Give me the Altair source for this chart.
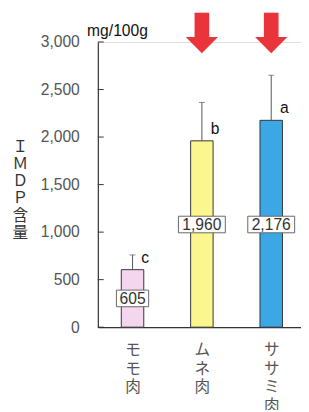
import altair as alt
import pandas as pd

# ---- data ----
categories = ["モモ肉", "ムネ肉", "ササミ肉"]
values = [605, 1960, 2176]
errors_top = [760, 2364, 2650]
letters = ["c", "b", "a"]
highlight = [False, True, True]
bar_colors = ["#f4d6ee", "#fcf68e", "#3ba7e4"]
y_ticks = [0, 500, 1000, 1500, 2000, 2500, 3000]

df = pd.DataFrame({
    "cat": categories,
    "value": values,
    "err": errors_top,
    "letter": letters,
    "hl": highlight,
    "color": bar_colors,
})
df["label_y"] = [v / 2 if v < 1000 else 1080 for v in values]
df["nchar"] = [len(f"{v:,}") for v in values]

ticks_df = pd.DataFrame({"t": y_ticks})

JP = "Noto Sans CJK JP"
SANS = "Liberation Sans"

xscale = alt.Scale(type="point", domain=categories, padding=0.465, align=0.538)
yscale = alt.Scale(domain=[0, 3000], nice=False, zero=True)

x_enc = alt.X(
    "cat:N", scale=xscale, sort=categories, title=None,
    axis=alt.Axis(
        labelAngle=0, labelExpr="split(datum.label, '')", labelFont=JP,
        labelFontSize=16, labelColor="#555555", labelLineHeight=19,
        labelPadding=15, ticks=False, domainColor="#333333", domainWidth=1.2,
        labelBaseline="top",
    ),
)
y_enc = alt.Y(
    "value:Q", scale=yscale,
    title=["Ｉ", "Ｍ", "Ｄ", "Ｐ", "含", "量"],
    axis=alt.Axis(
        values=y_ticks, format=",", labelExpr="format(datum.value, ',')",
        ticks=False, tickSize=0, labelPadding=19,
        labelFont=SANS, labelFontSize=16, labelColor="#555555",
        domainColor="#333333", domainWidth=1.2, grid=False,
        titleAngle=0, titleX=-80, titleY=107, titleAlign="center",
        titleBaseline="middle", titleFont=JP, titleFontSize=16,
        titleFontWeight="normal", titleColor="#333333", titleLineHeight=17.6,
    ),
)

xs = alt.X("cat:N", scale=xscale, sort=categories)


def ys(field):
    return alt.Y(field, scale=yscale)


base = alt.Chart(df)

bars = base.mark_bar(width=23, stroke="#333333", strokeWidth=1).encode(
    x=x_enc,
    y=y_enc,
    color=alt.Color("color:N", scale=None),
)

err_rule = base.mark_rule(color="#555555", strokeWidth=1).encode(
    x=xs, y=ys("value:Q"), y2="err:Q",
)
err_cap = base.mark_tick(color="#555555", size=6, thickness=1).encode(
    x=xs, y=ys("err:Q"),
)

letters_txt = base.mark_text(
    align="left", baseline="middle", dx=9, dy=-12, font=SANS, fontSize=16,
    color="#111111",
).encode(x=xs, y=ys("value:Q"), text="letter:N")

path3 = "M-0.6875,-0.354L0.6875,-0.354L0.6875,0.354L-0.6875,0.354Z"
path5 = "M-1,-0.354L1,-0.354L1,0.354L-1,0.354Z"
boxes = base.mark_point(
    filled=False, fill="white", fillOpacity=1, stroke="#666666",
    strokeWidth=1, opacity=1, size=2304,
).encode(
    x=xs, y=ys("label_y:Q"),
    shape=alt.Shape("nchar:O", scale=alt.Scale(domain=[3, 5], range=[path3, path5]), legend=None),
)
box_txt = base.mark_text(
    align="center", baseline="middle", dy=1, font=SANS, fontSize=16, color="#333333",
).encode(
    x=xs, y=ys("label_y:Q"),
    text=alt.Text("value:Q", format=","),
)

# arrow: shaft as a bar, head as a triangle symbol
arrow_shaft = base.transform_filter("datum.hl").mark_bar(
    width=15, color="#e8343a",
).encode(x=xs, y=alt.value(-30), y2=alt.value(-4))
head_path = "M-1,0L1,0L0,1Z"
arrow_head = base.transform_filter("datum.hl").mark_point(
    shape=head_path, filled=True, color="#e8343a", opacity=1, size=1089,
).encode(x=xs, y=alt.value(-5))

ticks = alt.Chart(ticks_df).mark_rule(color="#333333", strokeWidth=1).encode(
    x=alt.value(0), x2=alt.value(6), y=ys("t:Q"),
)

unit = alt.Chart(df).mark_text(
    align="left", baseline="alphabetic", font=SANS, fontSize=16, color="#111111",
).encode(
    x=alt.value(-11), y=alt.value(-6), text=alt.value("mg/100g"),
).transform_filter("datum.cat == 'モモ肉'")

chart = alt.layer(
    bars, err_rule, err_cap, letters_txt, boxes, box_txt,
    arrow_shaft, arrow_head, ticks, unit
).properties(
    width=208, height=292,
    autosize=alt.AutoSizeParams(type="none"),
    padding={"left": 92, "top": 30, "right": 0, "bottom": 80},
).configure_view(stroke=None).configure(background="white").configure_axisY(format=",")

chart.save("out.html", embed_options={"renderer": "svg", "actions": False})
